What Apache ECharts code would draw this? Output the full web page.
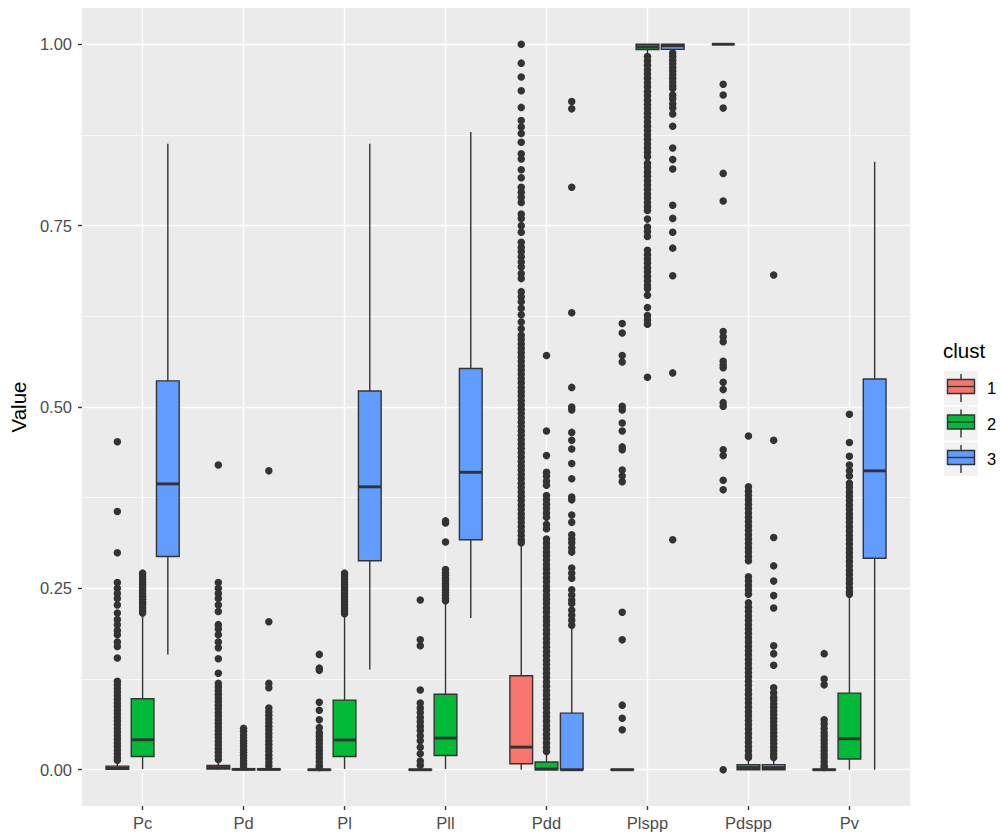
<!DOCTYPE html>
<html><head><meta charset="utf-8">
<script src="https://cdn.jsdelivr.net/npm/echarts@6/dist/echarts.min.js"></script>
<style>html,body{margin:0;padding:0;background:#fff}#chart{width:1002px;height:834px}</style>
</head><body><div id="chart"></div>
<script>
// ---------- DATA ----------
const categories = ['Pc', 'Pd', 'Pl', 'Pll', 'Pdd', 'Plspp', 'Pdspp', 'Pv'];
const clusters = ['1', '2', '3'];
const yTicks = [0, 0.25, 0.5, 0.75, 1];

// box stats per category: [lower whisker, Q1, median, Q3, upper whisker]
const boxStats1 = [
  [0, 0.0005, 0.002, 0.005, 0.011],
  [0, 0.0008, 0.003, 0.006, 0.012],
  [0, 0, 0, 0.0005, 0.001],
  [0, 0, 0, 0.0005, 0.001],
  [0, 0.0083, 0.0312, 0.1295, 0.310],
  [0, 0, 0, 0.0005, 0.001],
  [1, 1, 1, 1, 1],
  [0, 0, 0, 0.0005, 0.001]
];
const boxStats2 = [
  [0.001, 0.0183, 0.0413, 0.0978, 0.213],
  [0, 0, 0.0005, 0.001, 0.002],
  [0.001, 0.0183, 0.041, 0.096, 0.211],
  [0.001, 0.0197, 0.0436, 0.104, 0.230],
  [0, 0, 0.001, 0.0106, 0.022],
  [0.985, 0.9927, 0.9963, 1, 1],
  [0, 0, 0.003, 0.007, 0.014],
  [0, 0.0147, 0.0427, 0.1056, 0.239]
];
const boxStats3 = [
  [0.159, 0.294, 0.394, 0.536, 0.863],
  [0, 0, 0.0005, 0.001, 0.002],
  [0.138, 0.288, 0.390, 0.522, 0.863],
  [0.209, 0.317, 0.410, 0.553, 0.879],
  [0, 0, 0, 0.078, 0.195],
  [0.990, 0.993, 0.998, 1, 1],
  [0, 0, 0.003, 0.007, 0.014],
  [0, 0.2916, 0.412, 0.5386, 0.838]
];

// outliers per category
const outliers1 = [
  [0.452, 0.356, 0.299, 0.258, 0.250, 0.243, 0.236, 0.227, 0.216, 0.207, 0.200, 0.192, 0.186, 0.176, 0.170, 0.154, 0.122, 0.117, 0.112, 0.107, 0.102, 0.097, 0.092, 0.087, 0.082, 0.077, 0.072, 0.067, 0.062, 0.057, 0.052, 0.047, 0.042, 0.037, 0.032, 0.027, 0.022, 0.017, 0.013],
  [0.420, 0.258, 0.250, 0.243, 0.236, 0.227, 0.218, 0.200, 0.194, 0.186, 0.176, 0.168, 0.153, 0.133, 0.119, 0.114, 0.109, 0.104, 0.099, 0.094, 0.089, 0.084, 0.079, 0.074, 0.069, 0.064, 0.059, 0.054, 0.049, 0.044, 0.039, 0.034, 0.029, 0.024, 0.019, 0.014],
  [0.159, 0.140, 0.137, 0.093, 0.082, 0.069, 0.058, 0.051, 0.046, 0.041, 0.036, 0.031, 0.026, 0.021, 0.016, 0.011, 0.006, 0.003],
  [0.234, 0.179, 0.171, 0.110, 0.092, 0.085, 0.079, 0.072, 0.066, 0.060, 0.054, 0.047, 0.040, 0.031, 0.022, 0.012, 0.006],
  [1.000, 0.974, 0.955, 0.936, 0.913, 0.895, 0.886, 0.877, 0.865, 0.849, 0.842, 0.827, 0.816, 0.803, 0.796, 0.789, 0.782, 0.766, 0.760, 0.750, 0.741, 0.727, 0.720, 0.714, 0.707, 0.700, 0.693, 0.684, 0.677, 0.659, 0.652, 0.645, 0.636, 0.627, 0.617, 0.608, 0.599, 0.593, 0.587, 0.581, 0.575, 0.569, 0.563, 0.557, 0.551, 0.545, 0.539, 0.533, 0.527, 0.521, 0.515, 0.509, 0.503, 0.497, 0.491, 0.485, 0.479, 0.473, 0.467, 0.461, 0.455, 0.449, 0.443, 0.437, 0.431, 0.425, 0.419, 0.413, 0.407, 0.401, 0.395, 0.389, 0.383, 0.377, 0.371, 0.365, 0.359, 0.353, 0.347, 0.341, 0.335, 0.329, 0.323, 0.317, 0.313],
  [0.615, 0.602, 0.571, 0.562, 0.501, 0.496, 0.478, 0.467, 0.445, 0.441, 0.413, 0.405, 0.397, 0.217, 0.179, 0.089, 0.071, 0.055],
  [0.945, 0.930, 0.912, 0.822, 0.784, 0.604, 0.597, 0.590, 0.563, 0.558, 0.554, 0.534, 0.524, 0.506, 0.501, 0.441, 0.433, 0.399, 0.386, 0.000],
  [0.160, 0.125, 0.117, 0.069, 0.063, 0.057, 0.051, 0.046, 0.041, 0.036, 0.031, 0.026, 0.021, 0.016, 0.011, 0.006, 0.003]
];
const outliers2 = [
  [0.271, 0.267, 0.263, 0.259, 0.255, 0.251, 0.247, 0.243, 0.239, 0.235, 0.231, 0.227, 0.223, 0.219, 0.216],
  [0.057, 0.053, 0.048, 0.044, 0.040, 0.036, 0.032, 0.028, 0.024, 0.020, 0.016, 0.012, 0.008, 0.004],
  [0.271, 0.267, 0.263, 0.259, 0.255, 0.251, 0.247, 0.243, 0.239, 0.235, 0.231, 0.227, 0.223, 0.219, 0.215],
  [0.343, 0.340, 0.314, 0.276, 0.272, 0.268, 0.264, 0.260, 0.256, 0.252, 0.248, 0.244, 0.240, 0.236, 0.233],
  [0.571, 0.467, 0.433, 0.410, 0.405, 0.398, 0.392, 0.378, 0.372, 0.366, 0.360, 0.354, 0.348, 0.338, 0.332, 0.318, 0.312, 0.306, 0.300, 0.295, 0.289, 0.283, 0.277, 0.271, 0.265, 0.259, 0.253, 0.247, 0.241, 0.235, 0.229, 0.223, 0.217, 0.211, 0.205, 0.199, 0.193, 0.187, 0.181, 0.175, 0.169, 0.163, 0.157, 0.151, 0.145, 0.139, 0.133, 0.127, 0.121, 0.115, 0.109, 0.103, 0.097, 0.091, 0.085, 0.079, 0.073, 0.067, 0.061, 0.055, 0.049, 0.043, 0.037, 0.031, 0.025],
  [0.983, 0.977, 0.971, 0.965, 0.959, 0.953, 0.947, 0.941, 0.935, 0.929, 0.923, 0.917, 0.911, 0.905, 0.899, 0.893, 0.887, 0.881, 0.875, 0.869, 0.863, 0.857, 0.851, 0.845, 0.836, 0.830, 0.824, 0.818, 0.812, 0.806, 0.800, 0.794, 0.788, 0.782, 0.776, 0.771, 0.759, 0.748, 0.742, 0.735, 0.716, 0.710, 0.704, 0.698, 0.692, 0.686, 0.680, 0.674, 0.668, 0.663, 0.654, 0.637, 0.626, 0.620, 0.614, 0.541],
  [0.460, 0.390, 0.384, 0.378, 0.372, 0.366, 0.360, 0.354, 0.348, 0.342, 0.336, 0.330, 0.324, 0.318, 0.312, 0.306, 0.300, 0.294, 0.288, 0.266, 0.260, 0.254, 0.248, 0.242, 0.230, 0.224, 0.218, 0.212, 0.206, 0.200, 0.194, 0.188, 0.182, 0.176, 0.170, 0.164, 0.158, 0.152, 0.146, 0.140, 0.134, 0.128, 0.122, 0.116, 0.110, 0.104, 0.098, 0.092, 0.086, 0.080, 0.074, 0.068, 0.062, 0.056, 0.050, 0.044, 0.038, 0.032, 0.026, 0.020, 0.017],
  [0.490, 0.451, 0.432, 0.420, 0.412, 0.405, 0.395, 0.389, 0.383, 0.377, 0.371, 0.365, 0.359, 0.353, 0.347, 0.341, 0.335, 0.329, 0.323, 0.317, 0.311, 0.305, 0.299, 0.293, 0.287, 0.281, 0.275, 0.269, 0.263, 0.257, 0.251, 0.245, 0.242]
];
const outliers3 = [
  [],
  [0.412, 0.204, 0.119, 0.113, 0.085, 0.080, 0.075, 0.070, 0.065, 0.060, 0.055, 0.050, 0.045, 0.040, 0.035, 0.030, 0.025, 0.020, 0.015, 0.010, 0.005],
  [],
  [],
  [0.921, 0.911, 0.803, 0.630, 0.527, 0.500, 0.496, 0.465, 0.454, 0.442, 0.422, 0.401, 0.376, 0.372, 0.351, 0.341, 0.324, 0.318, 0.313, 0.306, 0.300, 0.278, 0.271, 0.264, 0.248, 0.241, 0.234, 0.229, 0.220, 0.213, 0.206, 0.199],
  [0.988, 0.983, 0.978, 0.973, 0.968, 0.963, 0.958, 0.953, 0.948, 0.943, 0.939, 0.930, 0.925, 0.918, 0.912, 0.904, 0.887, 0.857, 0.841, 0.828, 0.778, 0.760, 0.741, 0.719, 0.681, 0.547, 0.317],
  [0.682, 0.454, 0.320, 0.281, 0.260, 0.240, 0.223, 0.171, 0.160, 0.144, 0.113, 0.106, 0.100, 0.096, 0.091, 0.086, 0.081, 0.076, 0.071, 0.066, 0.061, 0.056, 0.051, 0.046, 0.041, 0.036, 0.031, 0.026, 0.021, 0.017],
  []
];

// ---------- STYLE ----------
const clusterColors = ['#F8766D', '#00BA38', '#619CFF'];
const DODGE = 0.25;      // offset between clusters (category units)
const BOX_W = 0.225;     // box width (category units)
const INK = '#333333';
const FONT = '"Liberation Sans", Arial, sans-serif';

const boxStats = [boxStats1, boxStats2, boxStats3];
const outliers = [outliers1, outliers2, outliers3];

function boxRender(color) {
  return function (params, api) {
    const x = api.value(0);
    const lo = api.coord([x, api.value(1)]);
    const q1 = api.coord([x, api.value(2)]);
    const md = api.coord([x, api.value(3)]);
    const q3 = api.coord([x, api.value(4)]);
    const hi = api.coord([x, api.value(5)]);
    const w = api.size([BOX_W, 0])[0];
    const cx = q1[0];
    const kids = [];
    if (q1[1] - lo[1] < -0.5) {
      kids.push({ type: 'line', shape: { x1: cx, y1: lo[1], x2: cx, y2: q1[1] }, style: { stroke: INK, lineWidth: 1.4 } });
    }
    if (hi[1] - q3[1] < -0.5) {
      kids.push({ type: 'line', shape: { x1: cx, y1: q3[1], x2: cx, y2: hi[1] }, style: { stroke: INK, lineWidth: 1.4 } });
    }
    kids.push(
      { type: 'rect', shape: { x: cx - w / 2, y: q3[1], width: w, height: q1[1] - q3[1] }, style: { fill: color, stroke: INK, lineWidth: 1.4 } },
      { type: 'line', shape: { x1: cx - w / 2, y1: md[1], x2: cx + w / 2, y2: md[1] }, style: { stroke: INK, lineWidth: 2.9 } }
    );
    return { type: 'group', children: kids };
  };
}

const series = [];
clusters.forEach(function (name, k) {
  const off = (k - 1) * DODGE;
  const pts = [];
  outliers[k].forEach(function (list, i) {
    list.forEach(function (v) { pts.push([i + 1 + off, v]); });
  });
  series.push({
    name: name, type: 'scatter', data: pts, symbolSize: 7.5,
    itemStyle: { color: INK, opacity: 1 }, z: 2 + k * 2, silent: true
  });
  series.push({
    name: name, type: 'custom', renderItem: boxRender(clusterColors[k]),
    data: boxStats[k].map(function (s, i) { return [i + 1 + off].concat(s); }),
    encode: { x: 0, y: [1, 2, 3, 4, 5] }, z: 3 + k * 2, silent: true
  });
});

// legend (drawn as graphic, ggplot style)
const legendChildren = [
  { type: 'text', left: 943, top: 340, style: { text: 'clust', font: '20.5px ' + FONT, fill: '#000' } }
];
clusters.forEach(function (name, k) {
  const y0 = 371 + k * 35.5;
  legendChildren.push(
    { type: 'rect', shape: { x: 944, y: y0, width: 34, height: 34 }, style: { fill: '#F2F2F2' } },
    { type: 'line', shape: { x1: 961, y1: y0 + 3, x2: 961, y2: y0 + 31 }, style: { stroke: INK, lineWidth: 1.4 } },
    { type: 'rect', shape: { x: 947.5, y: y0 + 8.5, width: 27, height: 14 }, style: { fill: clusterColors[k], stroke: INK, lineWidth: 1.4 } },
    { type: 'line', shape: { x1: 947.5, y1: y0 + 15.5, x2: 974.5, y2: y0 + 15.5 }, style: { stroke: INK, lineWidth: 1.4 } },
    { type: 'text', x: 987, y: y0 + 17, style: { text: name, font: '16.5px ' + FONT, fill: '#000', verticalAlign: 'middle', textVerticalAlign: 'middle' } }
  );
});

const chart = echarts.init(document.getElementById('chart'), null, { renderer: 'svg' });
chart.setOption({
  animation: false,
  backgroundColor: '#ffffff',
  grid: { left: 82, right: 92, top: 8, bottom: 28, show: true, backgroundColor: '#EBEBEB', borderWidth: 0, containLabel: false },
  xAxis: {
    type: 'value', min: 0.4, max: 8.6, minInterval: 1, maxInterval: 1, position: 'bottom',
    axisLine: { show: false, onZero: false },
    axisTick: { show: true, length: 4, lineStyle: { color: INK, width: 1.4 }, customValues: categories.map(function (c, i) { return i + 1; }) },
    axisLabel: { show: true, margin: 8, color: '#4D4D4D', fontSize: 16.5, fontFamily: FONT,
      customValues: categories.map(function (c, i) { return i + 1; }),
      formatter: function (v) { const i = Math.round(v) - 1; return (Math.abs(v - Math.round(v)) < 1e-6 && categories[i]) ? categories[i] : ''; } },
    splitLine: { show: true, lineStyle: { color: '#FFFFFF', width: 1.4 } }
  },
  yAxis: {
    type: 'value', min: -0.05, max: 1.05, minInterval: 0.25, maxInterval: 0.25, position: 'left',
    name: 'Value', nameLocation: 'middle', nameGap: 50, nameRotate: 90,
    nameTextStyle: { color: '#000', fontSize: 20.5, fontFamily: FONT },
    axisLine: { show: false, onZero: false },
    axisTick: { show: true, length: 4, lineStyle: { color: INK, width: 1.4 }, customValues: yTicks },
    axisLabel: { show: true, margin: 10, color: '#4D4D4D', fontSize: 16.5, fontFamily: FONT, customValues: yTicks,
      formatter: function (v) { return v.toFixed(2); } },
    splitLine: { show: true, lineStyle: { color: '#FFFFFF', width: 1.4 } },
    minorTick: { show: false, splitNumber: 2 },
    minorSplitLine: { show: true, lineStyle: { color: '#FFFFFF', width: 0.7 } }
  },
  graphic: legendChildren,
  series: series
});
</script></body></html>
